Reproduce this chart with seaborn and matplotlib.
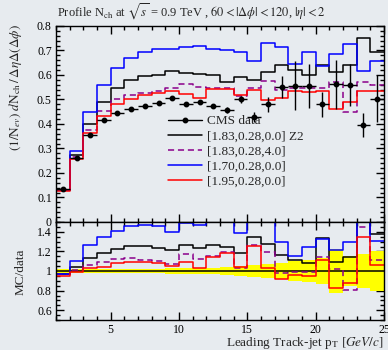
import numpy as np
import pandas as pd
import matplotlib
matplotlib.use("Agg")
import matplotlib.pyplot as plt
from matplotlib.ticker import MultipleLocator, FuncFormatter
from matplotlib.lines import Line2D
import seaborn as sns

# ---------------- data ----------------
bin_edges = list(range(1, 26))  # 1 GeV bins from 1 to 25
data_vals = [0.134, 0.262, 0.354, 0.415, 0.445, 0.460, 0.473, 0.486, 0.507, 0.480,
             0.490, 0.473, 0.458, 0.500, 0.430, 0.480, 0.551, 0.556, 0.556, 0.480,
             0.562, 0.558, 0.395, 0.504]
data_errs = [0.006, 0.006, 0.006, 0.006, 0.006, 0.006, 0.006, 0.006, 0.007, 0.008,
             0.008, 0.009, 0.012, 0.015, 0.020, 0.030, 0.045, 0.10, 0.09, 0.05,
             0.10, 0.085, 0.05, 0.095]
z2_vals = [0.130, 0.273, 0.400, 0.490, 0.545, 0.578, 0.594, 0.600, 0.615, 0.608,
           0.605, 0.599, 0.570, 0.590, 0.579, 0.613, 0.640, 0.620, 0.600, 0.640,
           0.611, 0.640, 0.753, 0.692]
p4_vals = [0.130, 0.265, 0.375, 0.455, 0.500, 0.520, 0.525, 0.535, 0.545, 0.565,
           0.552, 0.545, 0.548, 0.513, 0.545, 0.575, 0.540, 0.548, 0.548, 0.548,
           0.572, 0.449, 0.572, 0.560]
p170_vals = [0.130, 0.290, 0.449, 0.560, 0.627, 0.671, 0.694, 0.708, 0.708, 0.715,
             0.719, 0.708, 0.700, 0.694, 0.658, 0.729, 0.715, 0.643, 0.694, 0.636,
             0.684, 0.725, 0.618, 0.656]
p195_vals = [0.127, 0.258, 0.365, 0.432, 0.480, 0.501, 0.518, 0.527, 0.535, 0.522,
             0.507, 0.541, 0.541, 0.518, 0.538, 0.497, 0.508, 0.534, 0.529, 0.534,
             0.463, 0.490, 0.534, 0.534]
band_rel = [0.025, 0.025, 0.025, 0.025, 0.025, 0.025, 0.025, 0.025, 0.03, 0.03,
            0.03, 0.035, 0.04, 0.05, 0.06, 0.07, 0.085, 0.10, 0.11, 0.13,
            0.22, 0.15, 0.17, 0.20]
labels = ["CMS data", "[1.83,0.28,0.0] Z2", "[1.83,0.28,4.0]",
          "[1.70,0.28,0.0]", "[1.95,0.28,0.0]"]
colors = ["black", "black", "#8b008b", "#0000ff", "#ff0000"]

# ---------------- style ----------------
bg = "#e7ebef"
sns.set_theme(style="ticks")
plt.rcParams["font.family"] = ["Liberation Serif", "DejaVu Serif"]
plt.rcParams["mathtext.fontset"] = "stix"
plt.rcParams["axes.facecolor"] = bg
plt.rcParams["figure.facecolor"] = bg

W, H = 388, 350
fig = plt.figure(figsize=(W / 100, H / 100), dpi=100)
L, R = 56, 384
ax1 = fig.add_axes([L / W, 1 - 222 / H, (R - L) / W, 196 / H])
ax2 = fig.add_axes([L / W, 1 - 320 / H, (R - L) / W, 98 / H])

edges = np.array(bin_edges, dtype=float)
centers = 0.5 * (edges[:-1] + edges[1:])
data = np.array(data_vals)
errs = np.array(data_errs)

mc = [(z2_vals, colors[1], "-"), (p4_vals, colors[2], (0, (4, 2.5))),
      (p170_vals, colors[3], "-"), (p195_vals, colors[4], "-")]

# top panel
for vals, col, ls in mc:
    df = pd.DataFrame({"x": edges, "y": np.append(vals, vals[-1])})
    sns.lineplot(data=df, x="x", y="y", ax=ax1, drawstyle="steps-post",
                 color=col, linestyle=ls, lw=1.1, estimator=None, sort=False)
ax1.errorbar(centers, data, yerr=errs, xerr=0.5, fmt="o", color="black",
             ms=3.2, lw=1.0, capsize=0, zorder=5)

# ratio panel
band = np.array(band_rel)
ax2.fill_between(edges, np.append(1 - band, 1 - band[-1]),
                 np.append(1 + band, 1 + band[-1]), step="post",
                 color="#ffff00", lw=0, zorder=1)
ax2.axhline(1.0, color="black", lw=1.1, zorder=2)
for vals, col, ls in mc:
    ratio = np.array(vals) / data
    df = pd.DataFrame({"x": edges, "y": np.append(ratio, ratio[-1])})
    sns.lineplot(data=df, x="x", y="y", ax=ax2, drawstyle="steps-post",
                 color=col, linestyle=ls, lw=1.1, estimator=None, sort=False)

fmt = FuncFormatter(lambda v, p: "%g" % round(v, 3))
for ax in (ax1, ax2):
    ax.set_xlim(1, 25)
    ax.xaxis.set_major_locator(MultipleLocator(5))
    ax.xaxis.set_minor_locator(MultipleLocator(1))
    ax.tick_params(which="both", direction="in", top=True, right=True,
                   width=1.0, colors="black", labelsize=8.5, pad=3)
    ax.tick_params(which="major", length=6)
    ax.tick_params(which="minor", length=3)
    for s in ax.spines.values():
        s.set_linewidth(1.0)
        s.set_color("black")
    ax.set_xlabel("")
    ax.set_ylabel("")
    ax.yaxis.set_major_formatter(fmt)

ax1.set_ylim(0, 0.8)
ax1.yaxis.set_major_locator(MultipleLocator(0.1))
ax1.yaxis.set_minor_locator(MultipleLocator(0.02))
ax1.tick_params(labelbottom=False)

ax2.set_ylim(0.5, 1.5)
ax2.yaxis.set_major_locator(MultipleLocator(0.2))
ax2.yaxis.set_minor_locator(MultipleLocator(0.05))

# legend
handles = [Line2D([], [], color="black", marker="o", ms=3.2, lw=1.0)]
for vals, col, ls in mc:
    handles.append(Line2D([], [], color=col, linestyle=ls, lw=1.1))
ax1.legend(handles, labels, loc="upper left", frameon=False, fontsize=9.5,
           bbox_to_anchor=(168 / W, 1 - 115 / H), bbox_transform=fig.transFigure,
           handlelength=2.6, handletextpad=0.35, labelspacing=0.22,
           borderpad=0, borderaxespad=0)

# texts
fig.text(57 / W, 1 - 12 / H,
         r"Profile N$_{\rm ch}$ at $\sqrt{s}$ = 0.9 TeV , $60 < |\Delta\phi| < 120$, $|\eta| < 2$",
         ha="left", va="center", fontsize=9)
fig.text(16 / W, 1 - 24 / H,
         r"$(1/\mathrm{N}_{ev})\ d\mathrm{N}_{\rm ch}\,/\,\Delta\eta\Delta(\Delta\phi)$",
         rotation=90, ha="center", va="top", fontsize=9.5)
fig.text(21 / W, 1 - 272 / H, "MC/data", rotation=90, ha="center",
         va="center", fontsize=9.5)
fig.text(384 / W, 1 - 343 / H, r"Leading Track-jet p$_{\rm T}$ $[GeV/c]$",
         ha="right", va="center", fontsize=9.5)

fig.savefig("out.png", dpi=100, facecolor=bg)
